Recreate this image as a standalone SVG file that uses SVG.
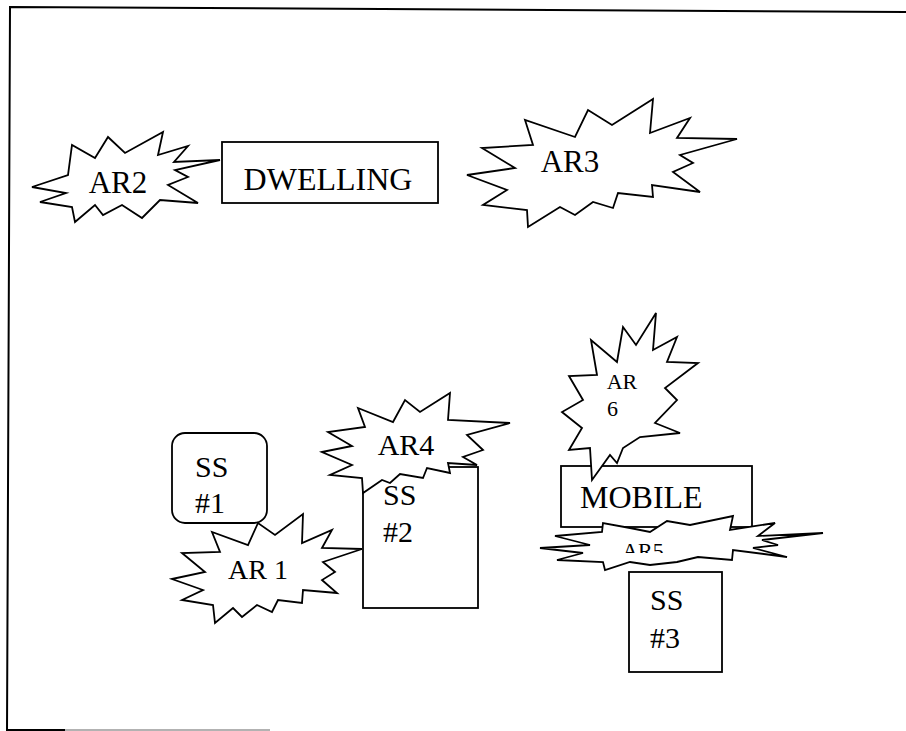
<svg xmlns="http://www.w3.org/2000/svg" width="906" height="731" viewBox="0 0 906 731">
<defs>
<style>
.burst{fill:#fff;stroke:#000;stroke-width:1.8;stroke-linejoin:miter}
.box{fill:#fff;stroke:#000;stroke-width:1.8}
.lbl{fill:#000;font-family:'Liberation Serif','Times New Roman',Times,serif}
.frame{fill:none;stroke:#000;stroke-width:2}
</style>
<clipPath id="ar5clip"><rect x="600" y="530" width="100" height="23"/></clipPath>
</defs>
<rect width="906" height="731" fill="#fff"/>
<g id="frame">
<polyline class="frame" points="906,12 10,7 7,731"/>
<line x1="7" y1="730" x2="65" y2="730" stroke="#000" stroke-width="2"/>
<line x1="65" y1="730" x2="270" y2="730" stroke="#999" stroke-width="1.5"/>
</g>
<g id="connectors"></g>
<g id="dwelling">
<rect class="box" x="222" y="142" width="216" height="61"/>
<text class="lbl" x="328" y="190" font-size="32" text-anchor="middle">DWELLING</text>
</g>
<g id="ar2">
<polygon class="burst" points="32,187 68,175 72,145 95,158 108,137 125,153 163,132 158,155 188,146 174,162 220,160 175,170 188,177 168,185 198,203 160,200 142,218 122,205 103,215 95,205 75,222 72,207 40,202 66,193"/>
<text class="lbl" x="118" y="193" font-size="31" text-anchor="middle">AR2</text>
</g>
<g id="ar3">
<polygon class="burst" points="467,175 515,168 482,148 533,145 525,120 575,137 588,110 612,125 653,99 650,133 690,118 677,138 737,139 680,155 693,163 673,172 700,192 652,185 653,197 618,193 613,208 593,202 575,215 560,207 528,227 527,210 483,205 507,190"/>
<text class="lbl" x="570" y="172" font-size="31" text-anchor="middle">AR3</text>
</g>
<g id="ss1">
<rect class="box" x="172" y="433" width="95" height="90" rx="13" ry="13"/>
<text class="lbl" x="195" y="477" font-size="30">SS</text>
<text class="lbl" x="195" y="513" font-size="30">#1</text>
</g>
<g id="ss2">
<rect class="box" x="363" y="467" width="115" height="141"/>
<text class="lbl" x="383" y="505" font-size="30">SS</text>
<text class="lbl" x="383" y="542" font-size="30">#2</text>
</g>
<g id="ar1">
<polygon class="burst" points="172,579 205,572 182,553 220,552 212,532 248,545 258,523 275,535 303,514 302,543 332,530 322,548 362,549 323,562 335,572 322,580 337,593 303,590 302,603 278,600 272,612 257,605 242,617 233,608 215,623 213,605 182,600 203,590"/>
<text class="lbl" x="258" y="579" font-size="28" text-anchor="middle">AR 1</text>
</g>
<g id="ar4">
<polygon class="burst" points="322,452 352,446 328,432 365,427 358,408 393,422 405,400 420,412 450,393 448,420 510,423 467,435 483,450 463,457 477,465 448,463 450,473 427,468 423,478 400,474 390,483 382,480 363,493 362,478 330,475 352,465"/>
<text class="lbl" x="406" y="455" font-size="30" text-anchor="middle">AR4</text>
</g>
<g id="mobile">
<rect class="box" x="561" y="466" width="191" height="61"/>
<text class="lbl" x="580" y="508" font-size="32">MOBILE</text>
</g>
<g id="ar6">
<polygon class="burst" points="656,313 636,345 623,327 617,362 591,340 597,375 569,376 583,400 562,412 582,428 569,450 590,448 592,480 610,455 617,463 623,448 640,437 680,433 655,423 677,400 665,388 698,363 667,362 677,337 653,350"/>
<text class="lbl" x="622" y="389" font-size="22" text-anchor="middle">AR</text>
<text class="lbl" x="607" y="416" font-size="22">6</text>
</g>
<g id="ar5">
<polygon class="burst" points="540,548 590,545 555,536 602,532 603,523 630,528 650,532 667,521 690,525 733,516 730,530 775,523 758,536 823,533 762,540 778,545 753,548 787,557 733,550 732,560 698,557 677,562 650,565 630,562 605,570 603,562 557,560 583,553"/>
<text class="lbl" x="643" y="558" font-size="22" text-anchor="middle" clip-path="url(#ar5clip)">AR5</text>
</g>
<g id="ss3">
<rect class="box" x="629" y="572" width="93" height="100"/>
<text class="lbl" x="650" y="610" font-size="30">SS</text>
<text class="lbl" x="650" y="648" font-size="30">#3</text>
</g>
</svg>
